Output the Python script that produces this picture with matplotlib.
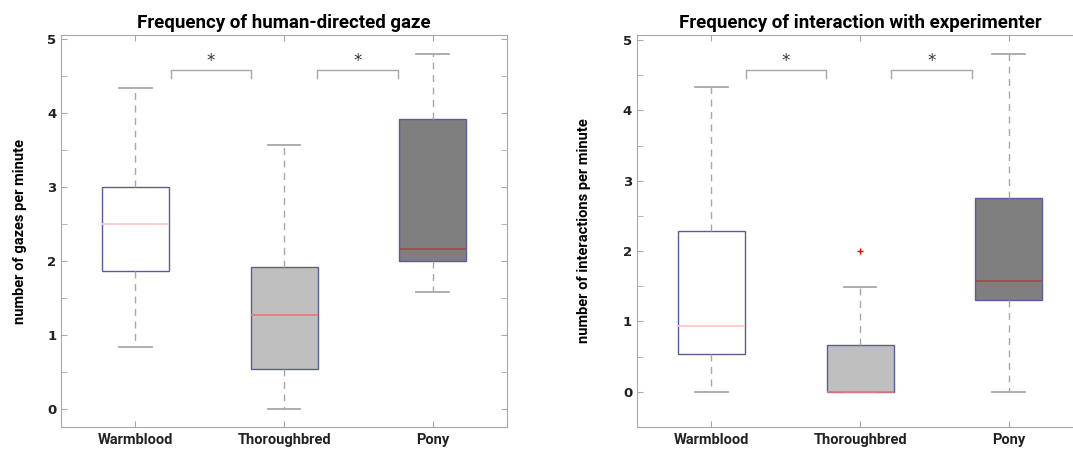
import matplotlib
matplotlib.use("Agg")
import matplotlib.pyplot as plt
from matplotlib.ticker import MultipleLocator

breeds = ["Warmblood", "Thoroughbred", "Pony"]

# five-number summaries: low whisker, q1, median, q3, high whisker
gaze_low = [0.83, 0.0, 1.57]
gaze_q1 = [1.86, 0.53, 2.0]
gaze_med = [2.5, 1.27, 2.15]
gaze_q3 = [3.0, 1.91, 3.92]
gaze_high = [4.33, 3.56, 4.8]
gaze_fliers = [[], [], []]

inter_low = [0.0, 0.0, 0.0]
inter_q1 = [0.54, 0.0, 1.30]
inter_med = [0.93, 0.0, 1.57]
inter_q3 = [2.28, 0.66, 2.75]
inter_high = [4.33, 1.49, 4.8]
inter_fliers = [[], [2.0], []]

# significance brackets: (x from, x to, height)
gaze_sig = [(1.24, 1.775, 4.58), (2.22, 2.765, 4.58)]
inter_sig = [(1.235, 1.77, 4.575), (2.21, 2.75, 4.575)]

fills = ["white", "#bfbfbf", "#7f7f7f"]
medians = ["#ffc4c4", "#e87878", "#a04848"]
edge = "#5c5c98"
grey = "#a8a8a8"

COND = "Roboto"


def make_stats(low, q1, med, q3, high, fliers):
    stats = []
    for i in range(len(breeds)):
        stats.append(dict(whislo=low[i], q1=q1[i], med=med[i], q3=q3[i],
                          whishi=high[i], fliers=fliers[i], label=breeds[i]))
    return stats


def draw(ax, stats, sig, title, ylabel, ylim, labx):
    bp = ax.bxp(stats, positions=[1, 2, 3], widths=0.45, capwidths=0.22,
                patch_artist=True, showfliers=True,
                whiskerprops=dict(color=grey, lw=1.0, ls=(0, (5, 4))),
                capprops=dict(color=grey, lw=1.3),
                flierprops=dict(marker="+", markeredgecolor="red",
                                markersize=5, lw=0))
    for i, b in enumerate(bp["boxes"]):
        b.set_facecolor(fills[i])
        b.set_edgecolor(edge)
        b.set_linewidth(1.0)
    for i, m in enumerate(bp["medians"]):
        m.set_color(medians[i])
        m.set_linewidth(1.2)

    for x0, x1, h in sig:
        ax.plot([x0, x0, x1, x1], [h - 0.11, h, h, h - 0.11], color=grey, lw=1.0)
        ax.text((x0 + x1) / 2, h + 0.12, "*", ha="center", va="center",
                fontsize=12, color="#333333")

    ax.set_xlim(0.5, 3.5)
    ax.set_ylim(*ylim)
    ax.set_xticks([1, 2, 3])
    ax.set_xticklabels(breeds, family=COND, fontweight="bold", fontsize=10.5,
                       color="#222222")
    ax.yaxis.set_major_locator(MultipleLocator(1))
    ax.yaxis.set_minor_locator(MultipleLocator(0.5))
    for lab in ax.get_yticklabels():
        lab.set_fontweight("bold")
        lab.set_fontsize(9.5)
        lab.set_color("#222222")
    ax.tick_params(which="both", direction="in", color=grey, top=True,
                   right=True, length=4)
    ax.tick_params(axis="x", pad=4)
    for sp in ax.spines.values():
        sp.set_color(grey)
    ax.set_title(title, family=COND, fontweight="bold", fontsize=13.5, pad=5)
    ax.set_ylabel(ylabel, family=COND, fontweight="bold", fontsize=10.5)
    ax.yaxis.set_label_coords(labx, 0.5)


fig = plt.figure(figsize=(10.73, 4.5), dpi=100)
ax1 = fig.add_axes([0.0569, 0.0511, 0.4157, 0.8711])
ax2 = fig.add_axes([0.5937, 0.0511, 0.4157, 0.8711])

draw(ax1, make_stats(gaze_low, gaze_q1, gaze_med, gaze_q3, gaze_high, gaze_fliers),
     gaze_sig, "Frequency of human-directed gaze", "number of gazes per minute",
     (-0.25, 5.05), -0.076)
draw(ax2, make_stats(inter_low, inter_q1, inter_med, inter_q3, inter_high, inter_fliers),
     inter_sig, "Frequency of interaction with experimenter",
     "number of interactions per minute", (-0.5, 5.07), -0.103)

fig.savefig("out.png", dpi=100)
